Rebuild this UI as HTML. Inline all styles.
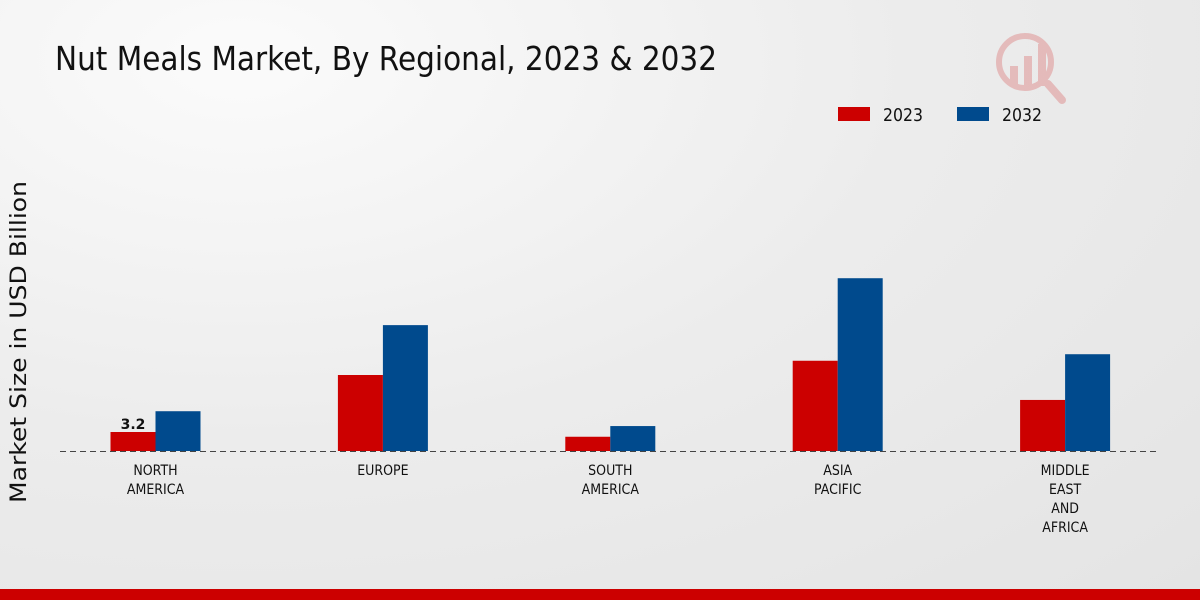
<!DOCTYPE html>
<html><head><meta charset="utf-8"><style>
html,body{margin:0;padding:0;width:1200px;height:600px;overflow:hidden}
body{background:radial-gradient(ellipse at 20% 10%,#fbfbfb 0%,#ececec 50%,#e4e4e4 100%);font-family:"DejaVu Sans","Liberation Sans",sans-serif}
</style></head><body>
<svg width="1200" height="600" xmlns="http://www.w3.org/2000/svg">
<text x="55" y="70" font-size="33" fill="#111" textLength="662" lengthAdjust="spacingAndGlyphs">Nut Meals Market, By Regional, 2023 &amp; 2032</text>
<g opacity="0.2">
<circle cx="1025" cy="62" r="26" fill="none" stroke="#c00" stroke-width="6"/>
<rect x="1010" y="66" width="8" height="20" fill="#c00"/><rect x="1024" y="56" width="8" height="30" fill="#c00"/><rect x="1038" y="44" width="8" height="42" fill="#c00"/>
<line x1="1048" y1="84" x2="1062" y2="100" stroke="#c00" stroke-width="8" stroke-linecap="round"/>
</g>
<g>
<rect x="838" y="107" width="32" height="14" fill="#cc0000"/>
<text x="883" y="121" font-size="18" fill="#111" textLength="40" lengthAdjust="spacingAndGlyphs">2023</text>
<rect x="957" y="107" width="32" height="14" fill="#004a8d"/>
<text x="1002" y="121" font-size="18" fill="#111" textLength="40" lengthAdjust="spacingAndGlyphs">2032</text>
</g>
<text transform="translate(26,342) rotate(-90)" text-anchor="middle" font-size="22" fill="#111" textLength="322" lengthAdjust="spacingAndGlyphs">Market Size in USD Billion</text>
<g id="bars"></g>
<line x1="60" y1="451.5" x2="1160" y2="451.5" stroke="#444" stroke-dasharray="6,4"/>
<g id="labels"></g>
<rect x="0" y="589" width="1200" height="11" fill="#cc0000"/>
</svg>
<script>
const categories=[["NORTH","AMERICA"],["EUROPE"],["SOUTH","AMERICA"],["ASIA","PACIFIC"],["MIDDLE","EAST","AND","AFRICA"]];
const values2023=[3.2,12.8,2.4,15.2,8.6];
const values2032=[6.7,21.2,4.2,29.1,16.3];
const valueLabels=["3.2","","","",""];
const NS="http://www.w3.org/2000/svg";
const base=451, pxPerUnit=19/3.2, x0=155.5, step=227.4, bw=45;
const y=v=>base-v*pxPerUnit;
const xc=i=>x0+i*step;
const bars=document.getElementById('bars'), labels=document.getElementById('labels');
function bar(x,v,c,name){const r=document.createElementNS(NS,'rect');r.setAttribute('x',x);r.setAttribute('y',y(v));r.setAttribute('width',bw);r.setAttribute('height',base-y(v));r.setAttribute('fill',c);


bars.appendChild(r);}
categories.forEach((cat,i)=>{
 bar(xc(i)-bw,values2023[i],'#cc0000','bar-2023-'+i);
 bar(xc(i),values2032[i],'#004a8d','bar-2032-'+i);
 if(valueLabels[i]){const t=document.createElementNS(NS,'text');t.setAttribute('x',xc(i)-bw/2);t.setAttribute('y',y(values2023[i])-3);t.setAttribute('text-anchor','middle');t.setAttribute('font-size','14');t.setAttribute('font-weight','bold');t.setAttribute('fill','#111');t.textContent=valueLabels[i];
 
 
 labels.appendChild(t);}
 const t=document.createElementNS(NS,'text');t.setAttribute('text-anchor','middle');t.setAttribute('font-size','14');t.setAttribute('fill','#111');
 t.setAttribute('transform','translate('+xc(i)+',0) scale(0.9,1)');
 
 
 cat.forEach((ln,j)=>{const s=document.createElementNS(NS,'tspan');s.setAttribute('x',0);s.setAttribute('y',475+j*19);s.textContent=ln;t.appendChild(s);});
 labels.appendChild(t);
});
</script>
</body></html>
